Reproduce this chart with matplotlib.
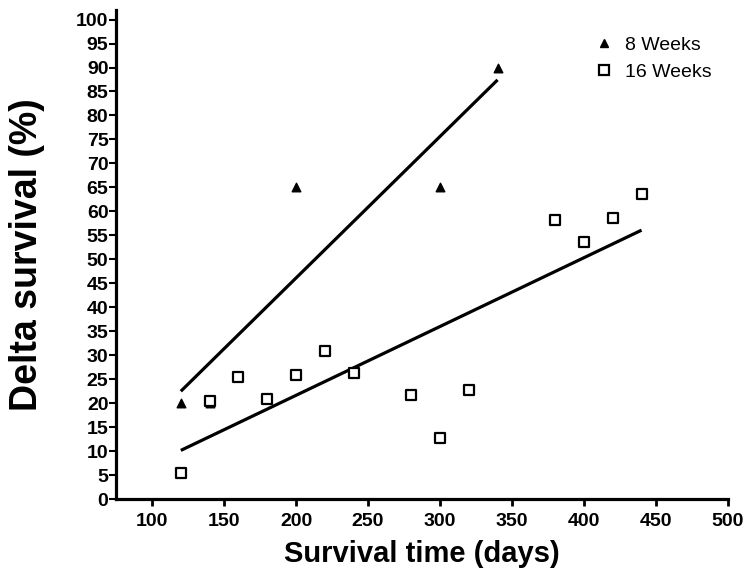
import matplotlib
matplotlib.use("Agg")
import matplotlib.pyplot as plt
import numpy as np
from matplotlib.lines import Line2D

plt.rcParams['font.family'] = ['Liberation Sans', 'DejaVu Sans']

# data
weeks8_x = [120, 140, 200, 300, 340]
weeks8_y = [20, 20, 65, 65, 90]

weeks16_x = [120, 140, 160, 180, 200, 220, 240, 280, 300, 320, 380, 400, 420, 440]
weeks16_y = [5.5, 20.4, 25.4, 20.9, 25.8, 30.9, 26.2, 21.8, 12.7, 22.7, 58.1, 53.6, 58.6, 63.7]

x_ticks = [100, 150, 200, 250, 300, 350, 400, 450, 500]
y_ticks = list(range(0, 101, 5))

fig = plt.figure(figsize=(7.52, 5.81), dpi=100)
ax = fig.add_axes([0.1543, 0.1411, 0.968 - 0.1543, 0.9828 - 0.1411])

# linear fits over each group's range
for xs, ys in [(weeks8_x, weeks8_y), (weeks16_x, weeks16_y)]:
    m, b = np.polyfit(xs, ys, 1)
    xx = np.array([min(xs), max(xs)])
    ax.plot(xx, m * xx + b, color='black', linewidth=2.3, solid_capstyle='butt', zorder=2)

ax.scatter(weeks8_x, weeks8_y, marker='^', s=38, color='black', zorder=3)
ax.scatter(weeks16_x, weeks16_y, marker='s', s=50, facecolor='white',
           edgecolor='black', linewidths=1.6, zorder=3)

ax.set_xlim(75, 500)
ax.set_ylim(0, 102)
ax.set_xticks(x_ticks)
ax.set_yticks(y_ticks)

ax.spines['top'].set_visible(False)
ax.spines['right'].set_visible(False)
ax.spines['left'].set_linewidth(2.3)
ax.spines['bottom'].set_linewidth(2.3)
ax.spines['bottom'].set_bounds(75, 500)

ax.tick_params(axis='x', direction='out', length=5, width=2, pad=5, labelsize=14)
ax.tick_params(axis='y', direction='out', length=5, width=1.5, pad=0.5, labelsize=14)
for lab in ax.get_xticklabels() + ax.get_yticklabels():
    lab.set_fontweight('bold')

ax.set_xlabel('Survival time (days)', fontsize=21, fontweight='bold', labelpad=7)
ax.set_ylabel('Delta survival (%)', fontsize=27, fontweight='bold', labelpad=22)

handles = [
    Line2D([], [], marker='^', linestyle='none', color='black', markersize=6),
    Line2D([], [], marker='s', linestyle='none', markerfacecolor='white',
           markeredgecolor='black', markeredgewidth=1.6, markersize=7),
]
ax.legend(handles, ['8 Weeks', '16 Weeks'], frameon=False, fontsize=14,
          loc='upper left', bbox_to_anchor=(0.753, 0.982), handlelength=1.0,
          handletextpad=0.6, labelspacing=0.5)

fig.savefig('out.png', dpi=100)
